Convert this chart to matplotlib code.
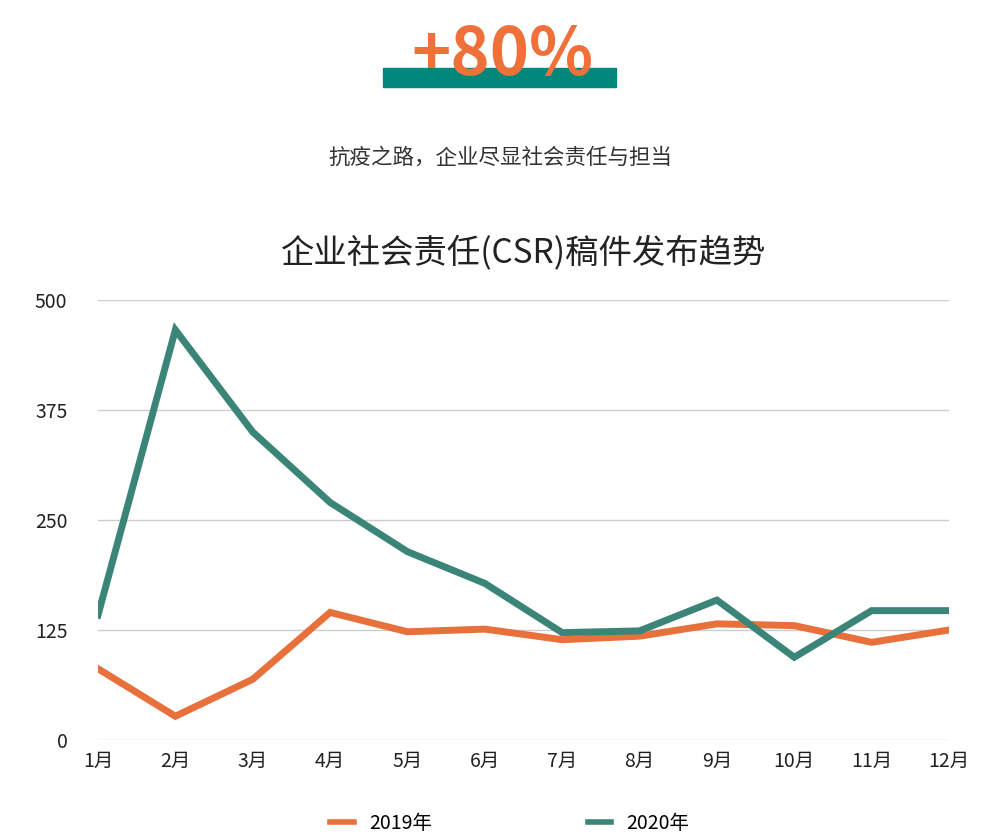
import matplotlib.pyplot as plt
from matplotlib.patches import Rectangle
from matplotlib.lines import Line2D

plt.rcParams['font.family'] = ['Noto Sans CJK SC', 'DejaVu Sans']

months = ['1月', '2月', '3月', '4月', '5月', '6月', '7月', '8月', '9月', '10月', '11月', '12月']
y2019 = [81, 27, 69, 145, 123, 126, 114, 118, 132, 130, 111, 125]
y2020 = [142, 466, 350, 270, 214, 178, 122, 124, 159, 94, 147, 147]
yticks = [0, 125, 250, 375, 500]

c19 = '#E8703A'
c20 = '#3A8577'

W, H = 997, 838
fig = plt.figure(figsize=(W / 100, H / 100), dpi=100)

# header
fig.patches.append(Rectangle((383 / W, 1 - 87 / H), 233 / W, 19 / H,
                             transform=fig.transFigure, color='#00877A', zorder=0))
fig.text(502 / W, 1 - 56 / H, '+80%', color='#F0703A', fontsize=48, fontweight='bold',
         ha='center', va='center', zorder=2)
fig.text(500 / W, 1 - 158 / H, '抗疫之路，企业尽显社会责任与担当', fontsize=15.5,
         ha='center', va='center', color='#333333')
fig.text(524 / W, 1 - 253 / H, '企业社会责任(CSR)稿件发布趋势', fontsize=24,
         ha='center', va='center', color='#222222')

ax = fig.add_axes([98 / W, 1 - 740 / H, (949 - 98) / W, 440 / H])
x = list(range(len(months)))
ax.plot(x, y2019, color=c19, lw=5, solid_joinstyle='miter')
ax.plot(x, y2020, color=c20, lw=5, solid_joinstyle='miter')
ax.set_xlim(0, len(months) - 1)
ax.set_ylim(0, 500)
ax.set_yticks(yticks)
ax.set_xticks(x)
ax.set_xticklabels(months)
ax.grid(axis='y', color='#cccccc', lw=1)
ax.set_axisbelow(True)
for s in ax.spines.values():
    s.set_visible(False)
ax.tick_params(length=0, labelsize=14, colors='#222222')
ax.tick_params(axis='y', pad=22)
ax.tick_params(axis='x', pad=8)

handles = [Line2D([], [], color=c19, lw=4), Line2D([], [], color=c20, lw=4)]
fig.legend(handles, ['2019年', '2020年'], loc='center', bbox_to_anchor=(510 / W, 1 - 823 / H),
           ncol=2, frameon=False, fontsize=14, handlelength=1.2, columnspacing=8)

fig.savefig('out.png', dpi=100)
